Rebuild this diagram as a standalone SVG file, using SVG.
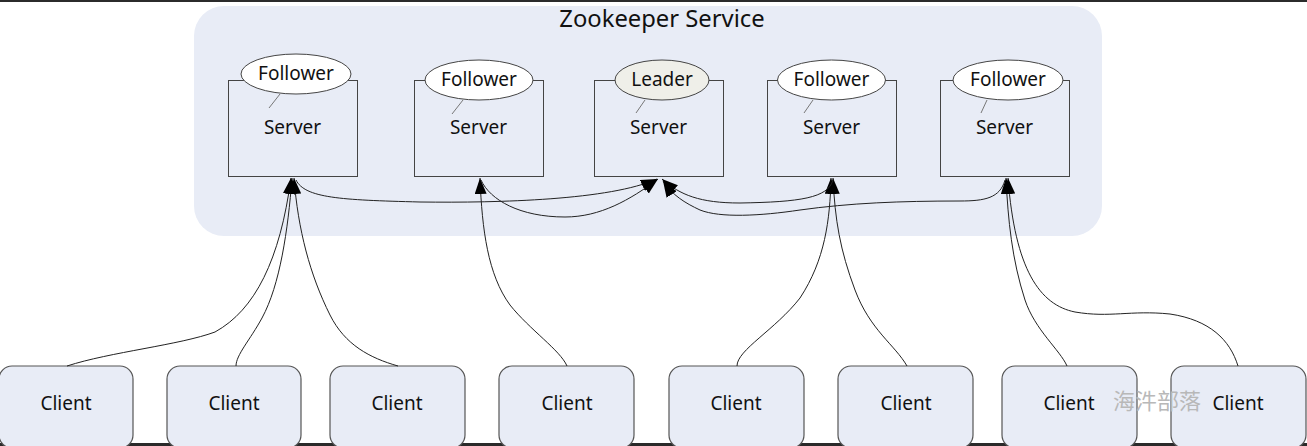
<svg xmlns="http://www.w3.org/2000/svg" width="1307" height="446" viewBox="0 0 1307 446">
<style>
.t{font-family:"Noto Sans","Open Sans","DejaVu Sans",sans-serif;fill:#111;text-anchor:middle}
.srv{fill:none;stroke:#444;stroke-width:1}
.ell{fill:#fff;stroke:#444;stroke-width:1}
.lead{fill:#efefe9;stroke:#444;stroke-width:1}
.call{stroke:#777;stroke-width:1}
.cli{fill:#e8ecf6;stroke:#555;stroke-width:1.2}
.con{fill:none;stroke:#222;stroke-width:1;marker-end:url(#ah)}
</style>
<defs>
<marker id="ah" markerUnits="userSpaceOnUse" markerWidth="18" markerHeight="14" refX="16" refY="6" orient="auto">
<path d="M0,0 L16,6 L0,12 z" fill="#000"/>
</marker>
</defs>
<rect x="0" y="0" width="1307" height="446" fill="#fff"/>
<rect x="0" y="0" width="1307" height="2" fill="#2b2b2b"/>
<rect x="0" y="443" width="1307" height="3" fill="#2a2a2a"/>

<g id="service">
<rect x="194" y="6" width="908" height="230" rx="30" fill="#e8ecf6"/>
<text class="t" x="662" y="27" font-size="23.8">Zookeeper Service</text>
</g>

<g id="server1">
<rect class="srv" x="228.5" y="80.5" width="129" height="96"/>
<ellipse class="ell" cx="296" cy="74" rx="55" ry="20"/>
<line class="call" x1="280" y1="94" x2="269" y2="108"/>
<text class="t" x="296" y="80" font-size="19">Follower</text>
<text class="t" x="292.5" y="134" font-size="19">Server</text>
</g>
<g id="server2">
<rect class="srv" x="414.5" y="80.5" width="129" height="96"/>
<ellipse class="ell" cx="479" cy="80" rx="54" ry="20"/>
<line class="call" x1="463" y1="100" x2="452" y2="114"/>
<text class="t" x="479" y="86" font-size="19">Follower</text>
<text class="t" x="478.5" y="134" font-size="19">Server</text>
</g>
<g id="leader">
<rect class="srv" x="594.5" y="80.5" width="129" height="96"/>
<ellipse class="lead" cx="662" cy="80" rx="47" ry="20"/>
<line class="call" x1="645" y1="100" x2="636" y2="113"/>
<text class="t" x="662" y="86" font-size="19">Leader</text>
<text class="t" x="658.5" y="134" font-size="19">Server</text>
</g>
<g id="server4">
<rect class="srv" x="767.5" y="80.5" width="129" height="96"/>
<ellipse class="ell" cx="831.5" cy="80" rx="54" ry="20"/>
<line class="call" x1="813" y1="100" x2="804" y2="113"/>
<text class="t" x="831.5" y="86" font-size="19">Follower</text>
<text class="t" x="831.5" y="134" font-size="19">Server</text>
</g>
<g id="server5">
<rect class="srv" x="940.5" y="80.5" width="129" height="96"/>
<ellipse class="ell" cx="1008" cy="80" rx="55" ry="20"/>
<line class="call" x1="987" y1="100" x2="981" y2="113"/>
<text class="t" x="1008" y="86" font-size="19">Follower</text>
<text class="t" x="1004.5" y="134" font-size="19">Server</text>
</g>

<g id="client1"><rect class="cli" x="-1" y="366" width="134" height="82" rx="13"/><text class="t" x="66" y="410" font-size="19">Client</text></g>
<g id="client2"><rect class="cli" x="167" y="366" width="134" height="82" rx="13"/><text class="t" x="234" y="410" font-size="19">Client</text></g>
<g id="client3"><rect class="cli" x="330" y="366" width="135" height="82" rx="13"/><text class="t" x="397" y="410" font-size="19">Client</text></g>
<g id="client4"><rect class="cli" x="499" y="366" width="135" height="82" rx="13"/><text class="t" x="567" y="410" font-size="19">Client</text></g>
<g id="client5"><rect class="cli" x="669" y="366" width="135" height="82" rx="13"/><text class="t" x="736" y="410" font-size="19">Client</text></g>
<g id="client6"><rect class="cli" x="838" y="366" width="135" height="82" rx="13"/><text class="t" x="906" y="410" font-size="19">Client</text></g>
<g id="client7"><rect class="cli" x="1002" y="366" width="135" height="82" rx="13"/><text class="t" x="1069" y="410" font-size="19">Client</text></g>
<g id="client8"><rect class="cli" x="1171" y="366" width="135" height="82" rx="13"/><text class="t" x="1238" y="410" font-size="19">Client</text></g>

<g id="connectors">
<path class="con" d="M67,366 C110,352 180,345 215,332 C255,310 280,260 291,178"/>
<path class="con" d="M236,366 C236,355 250,340 262,318 C280,285 288,230 292,178"/>
<path class="con" d="M398,366 C370,358 345,345 330,315 C310,275 298,230 294,178"/>
<path class="con" d="M567,366 C560,350 530,330 510,305 C488,275 482,230 480,178"/>
<path class="con" d="M737,366 C737,350 775,330 800,298 C825,260 830,220 831,178"/>
<path class="con" d="M907,366 C895,345 870,330 855,290 C840,250 835,220 833,178"/>
<path class="con" d="M1067,366 C1060,350 1035,330 1025,300 C1012,260 1008,220 1006,178"/>
<path class="con" d="M1238,366 C1230,340 1210,320 1170,314 C1130,310 1110,318 1075,312 C1040,305 1015,270 1008,178"/>
<path class="con" d="M296,180 C305,198 340,200 420,202 C500,203 610,200 657,179"/>
<path class="con" d="M481,180 C490,200 520,217 565,217 C600,217 630,200 658,179"/>
<path class="con" d="M833,180 C828,198 800,202 740,203 C700,203 680,195 662,179"/>
<path class="con" d="M1005,180 C1000,198 985,201 960,201 C900,201 850,203 800,210 C760,216 720,218 700,210 C685,203 672,195 663,181"/>
</g>

<text x="1113" y="409" font-size="22" fill="#b8b8b8" font-family="'Noto Sans CJK SC','Noto Sans CJK JP',sans-serif">海汼部落</text>
</svg>
